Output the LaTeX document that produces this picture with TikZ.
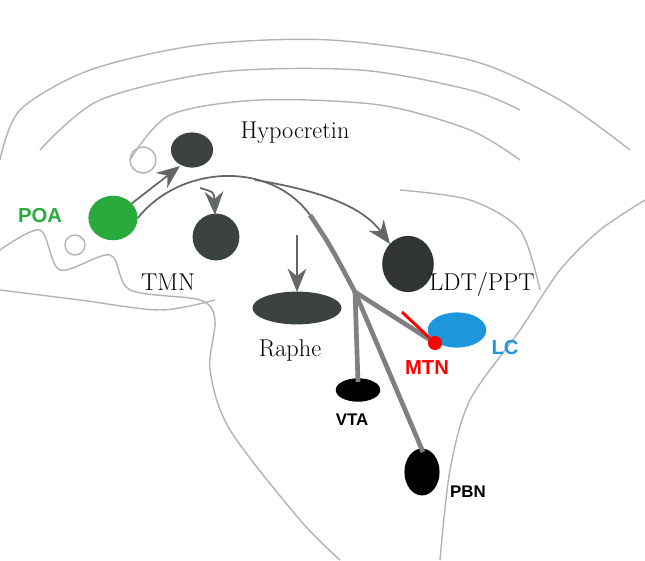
\documentclass[tikz,border=0pt]{standalone}
\usepackage{fontspec}
\newfontfamily\labelsans{Liberation Sans}
\usetikzlibrary{arrows.meta,shapes.geometric}
\definecolor{poagreen}{RGB}{40,170,60}
\definecolor{lcblue}{RGB}{30,150,220}
\definecolor{nucgray}{RGB}{60,65,65}
\definecolor{outline}{RGB}{175,180,180}
\tikzset{
  nuc/.style={fill=nucgray,draw=none},
  path/.style={draw=nucgray!80,line width=1.5pt,-{Stealth[length=20pt,width=16pt]}},
  proj/.style={draw=gray,line width=4pt},
  serif/.style={font=\huge},
  sans/.style={font=\labelsans\bfseries\LARGE}
}
\begin{document}
\begin{tikzpicture}[x=0.03cm,y=-0.03cm]
  \useasboundingbox (0,0) rectangle (645,560);
  % brain outline
  \draw[outline,line width=1.2pt] plot[smooth] coordinates {(0,160) (20,110) (90,70) (200,45) (330,40) (470,60) (560,100) (630,150)};
  \draw[outline,line width=1.2pt] plot[smooth] coordinates {(40,150) (100,100) (220,72) (360,70) (470,90) (520,110)};
  \draw[outline,line width=1.2pt] plot[smooth] coordinates {(130,160) (170,115) (260,100) (380,105) (470,130) (520,160)};
  \draw[outline,line width=1.2pt] plot[smooth] coordinates {(0,250) (40,230) (60,270) (110,255) (130,290) (200,300) (215,320) (210,370) (230,430) (300,520) (340,560)};
  \draw[outline,line width=1.2pt] plot[smooth] coordinates {(440,560) (450,470) (470,400) (520,330) (560,270) (600,230) (645,200)};
  \draw[outline,line width=1.2pt] plot[smooth] coordinates {(400,190) (470,200) (520,230) (540,290)};
  \draw[outline,line width=1.2pt] plot[smooth] coordinates {(0,290) (80,300) (160,310) (215,300)};
  \draw[outline,line width=1.2pt] (143,160) circle (13);
  \draw[outline,line width=1.2pt] (75,245) circle (10);
  % nuclei
  \node[nuc,ellipse,minimum width=36,minimum height=30,inner sep=0] (hcrt) at (192,150) {};
  \node[nuc,circle,minimum size=40] (tmn) at (216,237) {};
  \node[nuc,ellipse,minimum width=76,minimum height=28,inner sep=0] (raphe) at (297,308) {};
  \node[nuc,ellipse,minimum width=44,minimum height=48,inner sep=0,fill=nucgray!80!black] (ldt) at (408,264) {};
  \node[fill=lcblue,ellipse,minimum width=50,minimum height=30,inner sep=0] (lc) at (457,330) {};
  \node[fill=black,ellipse,minimum width=38,minimum height=20,inner sep=0] (vta) at (358,390) {};
  \node[fill=black,ellipse,minimum width=30,minimum height=40,inner sep=0] (pbn) at (422,472) {};
  \node[fill=poagreen,ellipse,minimum width=42,minimum height=38,inner sep=0] (poa) at (113,218) {};
  \coordinate (branch) at (355,292);
  % projections
  \draw[path] (poa) -- (180,166);
  \draw[draw=nucgray!80,line width=1.5pt] (poa.east) .. controls (180,165) and (270,160) .. (310,215);
  \draw[path] (200,188) .. controls (214,192) .. (215,215);
  \draw[path] (297,235) -- (297,292);
  \draw[path] (255,180) .. controls (330,192) and (365,210) .. (390,244);
  \draw[proj] (310,215) .. controls (330,245) .. (branch);
  \draw[proj] (branch) -- (358,382);
  \draw[proj] (branch) -- (423,452);
  \draw[proj] (branch) -- (435,343);
  \node[fill=red,circle,minimum size=12,inner sep=0] (mtn) at (435,343) {};
  \draw[red,line width=2.5pt] (mtn) -- (402,312);
  % labels
  \node[serif] at (295,133) {Hypocretin};
  \node[serif] at (168,282) {TMN};
  \node[serif] at (290,350) {Raphe};
  \node[serif] at (482,284) {LDT/PPT};
  \node[sans,poagreen] at (40,216) {POA};
  \node[sans,lcblue] at (505,348) {LC};
  \node[sans,red] at (427,368) {MTN};
  \node[sans,font=\labelsans\bfseries\Large] at (352,420) {VTA};
  \node[sans,font=\labelsans\bfseries\Large] at (468,492) {PBN};
\end{tikzpicture}
\end{document}
